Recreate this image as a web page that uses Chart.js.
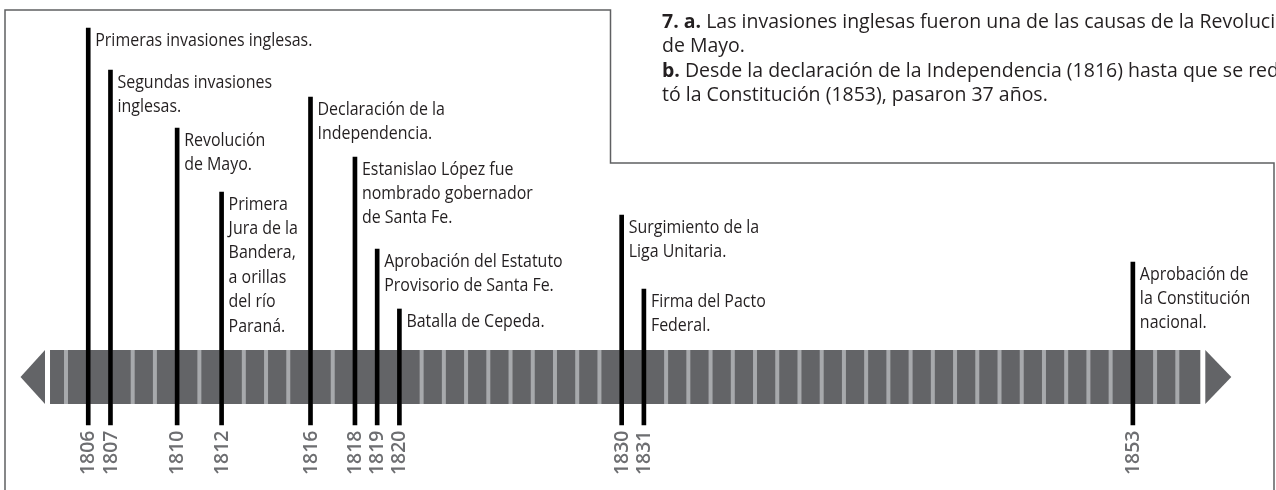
<!DOCTYPE html>
<html>
<head>
<meta charset="utf-8">
<title>Línea de tiempo</title>
<script src="https://cdn.jsdelivr.net/npm/chart.js@4.4.1/dist/chart.umd.min.js"></script>
<style>
  html, body { margin: 0; padding: 0; background: #fff; }
  #wrap { position: relative; width: 1276px; height: 490px; }
</style>
</head>
<body>
<div id="wrap"><canvas id="timeline"></canvas></div>
<script>
// --- data ---
var years = [1806, 1807, 1810, 1812, 1816, 1818, 1819, 1820, 1830, 1831, 1853];
var yearLabels = ["1806", "1807", "1810", "1812", "1816", "1818", "1819", "1820", "1830", "1831", "1853"];
var events = [
    ["Primeras invasiones inglesas."],
    ["Segundas invasiones", "inglesas."],
    ["Revolución", "de Mayo."],
    ["Primera", "Jura de la", "Bandera,", "a orillas", "del río", "Paraná."],
    ["Declaración de la", "Independencia."],
    ["Estanislao López fue", "nombrado gobernador", "de Santa Fe."],
    ["Aprobación del Estatuto", "Provisorio de Santa Fe."],
    ["Batalla de Cepeda."],
    ["Surgimiento de la", "Liga Unitaria."],
    ["Firma del Pacto", "Federal."],
    ["Aprobación de", "la Constitución", "nacional."]
];
var firstTick = 1805;
var lastTick = 1855;
var noteBold = ["7. a.", "", "b.", ""];
var noteText = [
    " Las invasiones inglesas fueron una de las causas de la Revolución",
    "de Mayo.",
    " Desde la declaración de la Independencia (1816) hasta que se redac-",
    "tó la Constitución (1853), pasaron 37 años."
];

// --- layout (pixels of the 490px-high page) ---
var stemTop = [28, 70, 128, 192, 97, 157, 249, 309, 215, 289, 262];
var stemBottom = 425;
var bandTop = 350;
var bandBottom = 404;

var timelinePlugin = {
    id: 'timeline',
    beforeDatasetsDraw: function(chart) {
        var ctx = chart.ctx, xs = chart.scales.x, ys = chart.scales.y;
        var top = ys.getPixelForValue(bandTop), bottom = ys.getPixelForValue(bandBottom);
        var left = xs.getPixelForValue(firstTick) - 16;
        var right = xs.getPixelForValue(lastTick) + 23;
        var mid = (top + bottom) / 2;
        ctx.save();
        ctx.fillStyle = '#636467';
        ctx.fillRect(left, top, right - left, bottom - top);
        ctx.beginPath();
        ctx.moveTo(left - 5, top);
        ctx.lineTo(left - 29.5, mid);
        ctx.lineTo(left - 5, bottom);
        ctx.closePath();
        ctx.fill();
        ctx.beginPath();
        ctx.moveTo(right + 5, top);
        ctx.lineTo(right + 31, mid);
        ctx.lineTo(right + 5, bottom);
        ctx.closePath();
        ctx.fill();
        // one light stripe per year
        ctx.fillStyle = '#a7a9ac';
        for (var yr = firstTick; yr <= lastTick; yr++) {
            var px = xs.getPixelForValue(yr);
            ctx.fillRect(px - 2, top, 4, bottom - top);
        }
        ctx.restore();
    },
    afterDatasetsDraw: function(chart) {
        var ctx = chart.ctx, ys = chart.scales.y;
        var meta = chart.getDatasetMeta(0);
        ctx.save();

        // event labels
        ctx.fillStyle = '#231f20';
        ctx.font = '19px "Open Sans"';
        ctx.textAlign = 'left';
        ctx.textBaseline = 'alphabetic';
        meta.data.forEach(function(bar, i) {
            var y0 = ys.getPixelForValue(stemTop[i]) + 17.5;
            events[i].forEach(function(line, j) {
                ctx.save();
                ctx.translate(bar.x + 7, y0 + j * 24.4);
                ctx.scale(0.84, 1);
                ctx.fillText(line, 0, 0);
                ctx.restore();
            });
        });

        // year labels, rotated
        ctx.fillStyle = '#6d6e71';
        ctx.font = '600 19.5px "Open Sans"';
        ctx.textAlign = 'right';
        ctx.textBaseline = 'middle';
        meta.data.forEach(function(bar, i) {
            ctx.save();
            ctx.translate(bar.x + 0.5, stemBottom + 5.5);
            ctx.rotate(-Math.PI / 2);
            ctx.fillText(yearLabels[i], 0, 0);
            ctx.restore();
        });

        // frame
        ctx.strokeStyle = '#5f6062';
        ctx.lineWidth = 1.5;
        ctx.beginPath();
        ctx.moveTo(5, 490);
        ctx.lineTo(5, 10);
        ctx.lineTo(610.5, 10);
        ctx.lineTo(610.5, 163);
        ctx.lineTo(1274, 163);
        ctx.lineTo(1274, 490);
        ctx.stroke();

        // answer text in the upper box
        ctx.fillStyle = '#231f20';
        ctx.textAlign = 'left';
        ctx.textBaseline = 'alphabetic';
        noteText.forEach(function(line, i) {
            var x = 662, y = 27.5 + i * 24.6;
            ctx.save();
            ctx.translate(x, y);
            ctx.scale(0.975, 1);
            var w = 0;
            if (noteBold[i]) {
                ctx.font = '700 20px "Open Sans"';
                ctx.fillText(noteBold[i], 0, 0);
                w = ctx.measureText(noteBold[i]).width;
            }
            ctx.font = '20px "Open Sans"';
            ctx.fillText(line, w, 0);
            ctx.restore();
        });
        ctx.restore();
    }
};

var stems = years.map(function(yr, i) {
    return { x: yr, y: [stemTop[i], stemBottom] };
});

new Chart(document.getElementById('timeline'), {
    type: 'bar',
    data: {
        datasets: [{
            label: 'Acontecimientos',
            data: stems,
            backgroundColor: '#000000',
            borderWidth: 0,
            barThickness: 4,
            grouped: false
        }]
    },
    options: {
        responsive: true,
        maintainAspectRatio: false,
        animation: false,
        events: [],
        layout: { padding: 0 },
        plugins: {
            legend: { display: false },
            tooltip: { enabled: false },
            title: { display: false }
        },
        scales: {
            x: { type: 'linear', display: false, offset: false, min: 1802.03, max: 1859.44 },
            y: { type: 'linear', display: false, reverse: true, min: 0, max: 490 }
        }
    },
    plugins: [timelinePlugin]
});
</script>
</body>
</html>
